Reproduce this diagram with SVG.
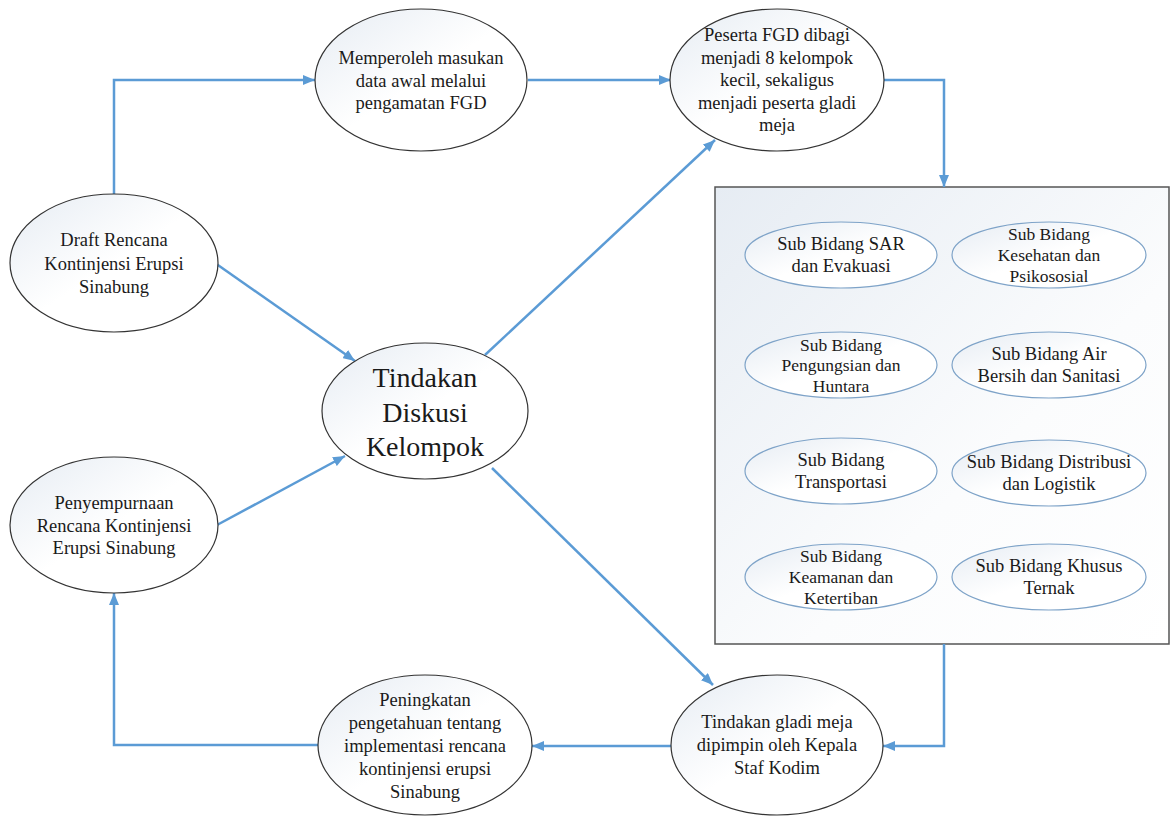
<svg xmlns="http://www.w3.org/2000/svg" width="1171" height="816" viewBox="0 0 1171 816">
<defs>
<linearGradient id="gNode" x1="0" y1="0" x2="1" y2="1">
<stop offset="0" stop-color="#e6ecf3"/>
<stop offset="0.5" stop-color="#ffffff"/>
<stop offset="1" stop-color="#ffffff"/>
</linearGradient>
<linearGradient id="gBox" x1="0" y1="0" x2="1" y2="1">
<stop offset="0" stop-color="#e6ecf3"/>
<stop offset="0.6" stop-color="#fbfcfd"/>
<stop offset="1" stop-color="#ffffff"/>
</linearGradient>
<marker id="arr" viewBox="0 0 12 10" refX="12" refY="5" markerWidth="12" markerHeight="10" markerUnits="userSpaceOnUse" orient="auto">
<path d="M0,0 L12,5 L0,10 z" fill="#5b9bd5"/>
</marker>
</defs>
<style>
.node{fill:url(#gNode);stroke:#333;stroke-width:1.2}
.sub{fill:url(#gNode);stroke:#7ea3c8;stroke-width:1.2}
.box{fill:url(#gBox);stroke:#555;stroke-width:1.5}
.conn{fill:none;stroke:#5b9bd5;stroke-width:2.5;marker-end:url(#arr)}
text{font-family:"Liberation Serif","Times New Roman",serif;fill:#1a1a1a;text-anchor:middle;font-size:18.5px}
.big{font-size:28px}
.s3{font-size:17.5px}
</style>
<rect width="1171" height="816" fill="#ffffff"/>

<g id="box-subbidang">
<rect class="box" x="715" y="187" width="454" height="457"/>
</g>

<g id="connectors">
<path class="conn" d="M114,195 V80 H315"/>
<path class="conn" d="M528,80 H671"/>
<path class="conn" d="M884,80 H944 V187"/>
<path class="conn" d="M215,263 L355,361"/>
<path class="conn" d="M485,355 L715,140"/>
<path class="conn" d="M217,525 L345,456"/>
<path class="conn" d="M492,468 L713,685"/>
<path class="conn" d="M944,644 V746 H883"/>
<path class="conn" d="M671,746 H532"/>
<path class="conn" d="M318,745 H114 V593"/>
</g>

<g id="node-memperoleh">
<ellipse class="node" cx="421" cy="80" rx="106" ry="71"/>
<text x="421" y="64">Memperoleh masukan</text>
<text x="421" y="87">data awal melalui</text>
<text x="421" y="109">pengamatan FGD</text>
</g>

<g id="node-peserta">
<ellipse class="node" cx="777" cy="80" rx="107" ry="71"/>
<text x="777" y="41">Peserta FGD dibagi</text>
<text x="777" y="63.5">menjadi 8 kelompok</text>
<text x="777" y="86">kecil, sekaligus</text>
<text x="777" y="108.5">menjadi peserta gladi</text>
<text x="777" y="131">meja</text>
</g>

<g id="node-draft">
<ellipse class="node" cx="114" cy="263" rx="104" ry="69"/>
<text x="114" y="246">Draft Rencana</text>
<text x="114" y="269.5">Kontinjensi Erupsi</text>
<text x="114" y="293">Sinabung</text>
</g>

<g id="node-tindakan-diskusi">
<ellipse class="node" cx="425" cy="411" rx="103" ry="68"/>
<text class="big" x="425" y="387">Tindakan</text>
<text class="big" x="425" y="421.5">Diskusi</text>
<text class="big" x="425" y="456">Kelompok</text>
</g>

<g id="node-penyempurnaan">
<ellipse class="node" cx="114" cy="525" rx="104" ry="68"/>
<text x="114" y="509">Penyempurnaan</text>
<text x="114" y="531.5">Rencana Kontinjensi</text>
<text x="114" y="554">Erupsi Sinabung</text>
</g>

<g id="node-peningkatan">
<ellipse class="node" cx="425" cy="745" rx="107" ry="70"/>
<text x="425" y="706">Peningkatan</text>
<text x="425" y="729">pengetahuan tentang</text>
<text x="425" y="752">implementasi rencana</text>
<text x="425" y="775">kontinjensi erupsi</text>
<text x="425" y="798">Sinabung</text>
</g>

<g id="node-gladi">
<ellipse class="node" cx="777" cy="745" rx="106" ry="70"/>
<text x="777" y="728">Tindakan gladi meja</text>
<text x="777" y="751">dipimpin oleh Kepala</text>
<text x="777" y="774">Staf Kodim</text>
</g>

<g id="sub-sar">
<ellipse class="sub" cx="841" cy="255" rx="96" ry="33"/>
<text x="841" y="250">Sub Bidang SAR</text>
<text x="841" y="272">dan Evakuasi</text>
</g>
<g id="sub-kesehatan">
<ellipse class="sub" cx="1049" cy="255" rx="97" ry="33"/>
<text class="s3" x="1049" y="240">Sub Bidang</text>
<text class="s3" x="1049" y="261">Kesehatan dan</text>
<text class="s3" x="1049" y="282">Psikososial</text>
</g>
<g id="sub-pengungsian">
<ellipse class="sub" cx="841" cy="365" rx="96" ry="33"/>
<text class="s3" x="841" y="351">Sub Bidang</text>
<text class="s3" x="841" y="371">Pengungsian dan</text>
<text class="s3" x="841" y="392">Huntara</text>
</g>
<g id="sub-air">
<ellipse class="sub" cx="1049" cy="365" rx="97" ry="33"/>
<text x="1049" y="360">Sub Bidang Air</text>
<text x="1049" y="382">Bersih dan Sanitasi</text>
</g>
<g id="sub-transportasi">
<ellipse class="sub" cx="841" cy="471" rx="96" ry="33"/>
<text x="841" y="466">Sub Bidang</text>
<text x="841" y="488">Transportasi</text>
</g>
<g id="sub-distribusi">
<ellipse class="sub" cx="1049" cy="473" rx="97" ry="33"/>
<text x="1049" y="468">Sub Bidang Distribusi</text>
<text x="1049" y="490">dan Logistik</text>
</g>
<g id="sub-keamanan">
<ellipse class="sub" cx="841" cy="577" rx="96" ry="33"/>
<text class="s3" x="841" y="562">Sub Bidang</text>
<text class="s3" x="841" y="583">Keamanan dan</text>
<text class="s3" x="841" y="604">Ketertiban</text>
</g>
<g id="sub-khusus">
<ellipse class="sub" cx="1049" cy="577" rx="97" ry="33"/>
<text x="1049" y="572">Sub Bidang Khusus</text>
<text x="1049" y="594">Ternak</text>
</g>
</svg>
